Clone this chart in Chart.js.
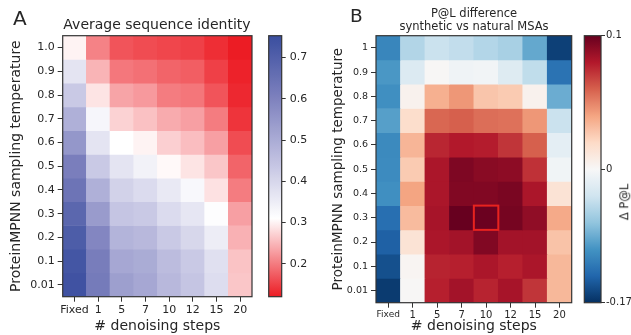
<!DOCTYPE html>
<html>
<head>
<meta charset="utf-8">
<script src="https://cdn.jsdelivr.net/npm/chart.js@4.4.1/dist/chart.umd.min.js"></script>
<style>
html, body { margin: 0; padding: 0; background: #fff; }
body { width: 631px; height: 335px; position: relative; overflow: hidden; font-family: "DejaVu Sans", sans-serif; color: #262626; }
canvas { position: absolute; top: 0; }
.txt { position: absolute; white-space: nowrap; line-height: 1; }
</style>
</head>
<body>
<canvas id="heatA" width="256" height="335" style="left:0"></canvas>
<canvas id="barA" width="60" height="335" style="left:262px"></canvas>
<canvas id="heatB" width="256" height="335" style="left:320px"></canvas>
<canvas id="barB" width="53" height="335" style="left:578px"></canvas>

<div class="txt" style="left:13px;top:7.5px;font-size:20px">A</div>
<div class="txt" style="left:157px;top:16.7px;font-size:14px;transform:translateX(-50%)">Average sequence identity</div>
<div class="txt" style="left:350px;top:6.5px;font-size:18.5px">B</div>
<div class="txt" style="left:474px;top:7.4px;font-size:11.5px;line-height:12.7px;text-align:center;transform:translateX(-50%)">P@L difference<br>synthetic vs natural MSAs</div>
<div class="txt" style="left:624.5px;top:202px;font-size:11.5px;transform:translate(-50%,-50%) rotate(-90deg)">Δ P@L</div>

<script>
// columns and rows (rows listed top to bottom, as drawn)
const steps = ["Fixed", "1", "5", "7", "10", "12", "15", "20"];
const tempsA = ["1.0", "0.9", "0.8", "0.7", "0.6", "0.5", "0.4", "0.3", "0.2", "0.1", "0.01"];
const tempsB = ["1", "0.9", "0.8", "0.7", "0.6", "0.5", "0.4", "0.3", "0.2", "0.1", "0.01"];

// A: average sequence identity
const identity = [
	[0.30, 0.205, 0.167, 0.16, 0.155, 0.15, 0.135, 0.12],
	[0.37, 0.247, 0.196, 0.19, 0.18, 0.175, 0.15, 0.125],
	[0.43, 0.287, 0.234, 0.225, 0.20, 0.195, 0.167, 0.13],
	[0.49, 0.33, 0.272, 0.258, 0.24, 0.23, 0.20, 0.14],
	[0.55, 0.37, 0.31, 0.30, 0.27, 0.255, 0.23, 0.16],
	[0.61, 0.43, 0.37, 0.34, 0.305, 0.287, 0.262, 0.18],
	[0.64, 0.49, 0.41, 0.39, 0.36, 0.325, 0.285, 0.20],
	[0.68, 0.54, 0.44, 0.43, 0.39, 0.365, 0.315, 0.23],
	[0.71, 0.59, 0.48, 0.47, 0.43, 0.40, 0.35, 0.245],
	[0.73, 0.615, 0.51, 0.50, 0.46, 0.43, 0.38, 0.26],
	[0.74, 0.62, 0.53, 0.51, 0.47, 0.44, 0.385, 0.262],
];
const identityRange = [0.12, 0.753];
const identityCenter = 0.31;
const identityTicks = [0.2, 0.3, 0.4, 0.5, 0.6, 0.7];

// B: P@L difference, synthetic vs natural MSAs
const pAtLDiff = [
	[-0.112, -0.051, -0.037, -0.042, -0.05, -0.056, -0.088, -0.16],
	[-0.099, -0.024, 0.001, -0.007, -0.005, -0.022, -0.043, -0.126],
	[-0.105, 0.004, 0.036, 0.044, 0.028, 0.026, 0.004, -0.085],
	[-0.094, 0.018, 0.058, 0.060, 0.056, 0.055, 0.044, -0.037],
	[-0.109, 0.034, 0.076, 0.080, 0.079, 0.072, 0.060, -0.017],
	[-0.108, 0.026, 0.082, 0.094, 0.091, 0.090, 0.073, -0.006],
	[-0.105, 0.040, 0.082, 0.093, 0.093, 0.095, 0.082, 0.014],
	[-0.129, 0.032, 0.083, 0.100, 0.099, 0.096, 0.089, 0.038],
	[-0.139, 0.014, 0.082, 0.084, 0.093, 0.084, 0.084, 0.029],
	[-0.150, 0.002, 0.077, 0.078, 0.082, 0.078, 0.082, 0.033],
	[-0.163, 0.001, 0.078, 0.084, 0.077, 0.083, 0.072, 0.033],
];
const diffRange = [-0.17, 0.1];
const diffTicks = [-0.17, 0, 0.1];
const highlight = { step: "10", temp: "0.3" };

// colour maps
const rdbuR = ["#053061", "#2166ac", "#4393c3", "#92c5de", "#d1e5f0", "#f7f7f7",
	"#fddbc7", "#f4a582", "#d6604d", "#b2182b", "#67001f"];
const redSide = ["#ffffff", "#ec1c24"];
const blueSide = ["#ffffff", "#bdbddf", "#7c80bd", "#3a4e9f"];

function hex(h) {
	return [1, 3, 5].map(i => parseInt(h.slice(i, i + 2), 16));
}
function ramp(stops, p) {
	p = Math.max(0, Math.min(1, p));
	const x = p * (stops.length - 1);
	const i = Math.min(Math.floor(x), stops.length - 2);
	const t = x - i;
	const a = hex(stops[i]), b = hex(stops[i + 1]);
	const c = a.map((v, k) => Math.round(v + (b[k] - v) * t));
	return `rgb(${c[0]},${c[1]},${c[2]})`;
}
function identityColor(v) {
	if (v <= identityCenter) {
		return ramp(redSide, (identityCenter - v) / (identityCenter - identityRange[0]));
	}
	return ramp(blueSide, (v - identityCenter) / (identityRange[1] - identityCenter));
}
// two-slope norm around 0
function diffNorm(v) {
	return v < 0 ? 0.5 * (1 - v / diffRange[0]) : 0.5 + 0.5 * v / diffRange[1];
}
function diffColor(v) {
	return ramp(rdbuR, diffNorm(v));
}
function normColor(p) {
	return ramp(rdbuR, p);
}

const ink = "#262626";
const frame = {
	id: "frame",
	afterDatasetsDraw(chart) {
		const { left, top, width, height } = chart.chartArea;
		const ctx = chart.ctx;
		ctx.save();
		ctx.strokeStyle = "#333";
		ctx.lineWidth = 1.2;
		ctx.strokeRect(left, top, width, height);
		ctx.restore();
	},
};

function heatmap(id, rowLabels, rows, colorOf, opt) {
	const n = rows.length;
	const datasets = rows.map((row, i) => ({
		data: row.map(() => [n - 1 - i, n - i]),
		backgroundColor: row.map(colorOf),
	}));
	return new Chart(document.getElementById(id), {
		type: "bar",
		data: { labels: steps, datasets: datasets },
		options: {
			responsive: false,
			animation: false,
			layout: { padding: opt.padding },
			datasets: {
				bar: { grouped: false, barPercentage: 1, categoryPercentage: 1, borderWidth: 0 },
			},
			plugins: { legend: { display: false }, tooltip: { enabled: false } },
			scales: {
				x: {
					offset: true,
					grid: { offset: false, drawOnChartArea: false, tickLength: 5, color: "#333" },
					border: { display: false },
					ticks: { color: ink, padding: opt.xPad, maxRotation: 0, autoSkip: false, font: opt.xFont },
					title: {
						display: true, text: "# denoising steps", color: ink,
						font: { family: "DejaVu Sans", size: 14 }, padding: { top: 0, bottom: 0 },
					},
					afterFit: s => { s.height = opt.xHeight; },
				},
				y: {
					min: 0,
					max: n,
					afterBuildTicks: s => {
						s.ticks = rowLabels.map((_, i) => ({ value: n - 0.5 - i }));
					},
					grid: { drawOnChartArea: false, tickLength: 5, color: "#333" },
					border: { display: false },
					ticks: {
						color: ink, padding: opt.yPad, autoSkip: false,
						font: { family: "DejaVu Sans", size: opt.yFontSize },
						callback: v => rowLabels[n - 1 - Math.floor(v)],
					},
					title: {
						display: true, text: "ProteinMPNN sampling temperature", color: ink,
						font: { family: "DejaVu Sans", size: opt.yTitleSize },
						padding: { top: opt.yTitlePad, bottom: 0 },
					},
					afterFit: s => { s.width = opt.yWidth; },
				},
			},
		},
		plugins: [frame].concat(opt.extra || []),
	});
}

function colorbar(id, lo, hi, tickVals, tickText, colorAt, opt) {
	return new Chart(document.getElementById(id), {
		type: "bar",
		data: {
			labels: [""],
			datasets: [{
				data: [[lo, hi]],
				borderWidth: 0,
				barPercentage: 1,
				categoryPercentage: 1,
				backgroundColor: c => {
					const area = c.chart.chartArea;
					if (!area || !isFinite(area.top) || !isFinite(area.bottom)) return "#fff";
					const g = c.chart.ctx.createLinearGradient(0, area.bottom, 0, area.top);
					for (let i = 0; i <= 60; i++) g.addColorStop(i / 60, colorAt(lo + (hi - lo) * i / 60));
					return g;
				},
			}],
		},
		options: {
			responsive: false,
			animation: false,
			layout: { padding: opt.padding },
			plugins: { legend: { display: false }, tooltip: { enabled: false } },
			scales: {
				x: { display: false },
				y: {
					position: "right",
					min: lo,
					max: hi,
					afterBuildTicks: s => { s.ticks = tickVals.map(v => ({ value: v })); },
					grid: { drawOnChartArea: false, tickLength: 4, color: "#333" },
					border: { display: false },
					ticks: {
						color: ink, padding: opt.pad, autoSkip: false,
						font: { family: "DejaVu Sans", size: opt.fontSize },
						callback: (v, i) => tickText[i],
					},
					afterFit: s => { s.width = opt.width; },
				},
			},
		},
		plugins: [frame],
	});
}

const highlightBox = {
	id: "highlightBox",
	afterDatasetsDraw(chart) {
		const x = chart.scales.x, y = chart.scales.y;
		const w = chart.chartArea.width / steps.length;
		const h = chart.chartArea.height / tempsB.length;
		const cx = x.getPixelForValue(steps.indexOf(highlight.step));
		const cy = y.getPixelForValue(tempsB.length - 0.5 - tempsB.indexOf(highlight.temp));
		const ctx = chart.ctx;
		ctx.save();
		ctx.strokeStyle = "#e8231f";
		ctx.lineWidth = 2;
		ctx.strokeRect(cx - w / 2, cy - h / 2, w, h);
		ctx.restore();
	},
};

heatmap("heatA", tempsA, identity, identityColor, {
	padding: { left: 0, top: 35.7, right: 4, bottom: 0 },
	xHeight: 38.3, yWidth: 62.7, xPad: 2, yPad: 3,
	xFont: { family: "DejaVu Sans", size: 11 },
	yFontSize: 11, yTitleSize: 14, yTitlePad: 8.3,
});

colorbar("barA", identityRange[0], identityRange[1], identityTicks,
	identityTicks.map(v => v.toFixed(1)), identityColor, {
		padding: { left: 6.7, top: 35.7, right: 0, bottom: 38.3 },
		width: 40.3, pad: 4, fontSize: 11,
	});

heatmap("heatB", tempsB, pAtLDiff, diffColor, {
	padding: { left: 0, top: 35.7, right: 4.3, bottom: 0 },
	xHeight: 32.3, yWidth: 56, xPad: 2, yPad: 3,
	xFont: c => ({ family: "DejaVu Sans", size: c.tick && c.tick.label === "Fixed" ? 9 : 10 }),
	yFontSize: 9.5, yTitleSize: 13.5, yTitlePad: 9.9,
	extra: [highlightBox],
});

colorbar("barB", 0, 1, diffTicks.map(diffNorm), diffTicks.map(String), normColor, {
	padding: { left: 6.3, top: 35.7, right: 0, bottom: 32.3 },
	width: 30, pad: 1, fontSize: 10,
});
</script>
</body>
</html>
